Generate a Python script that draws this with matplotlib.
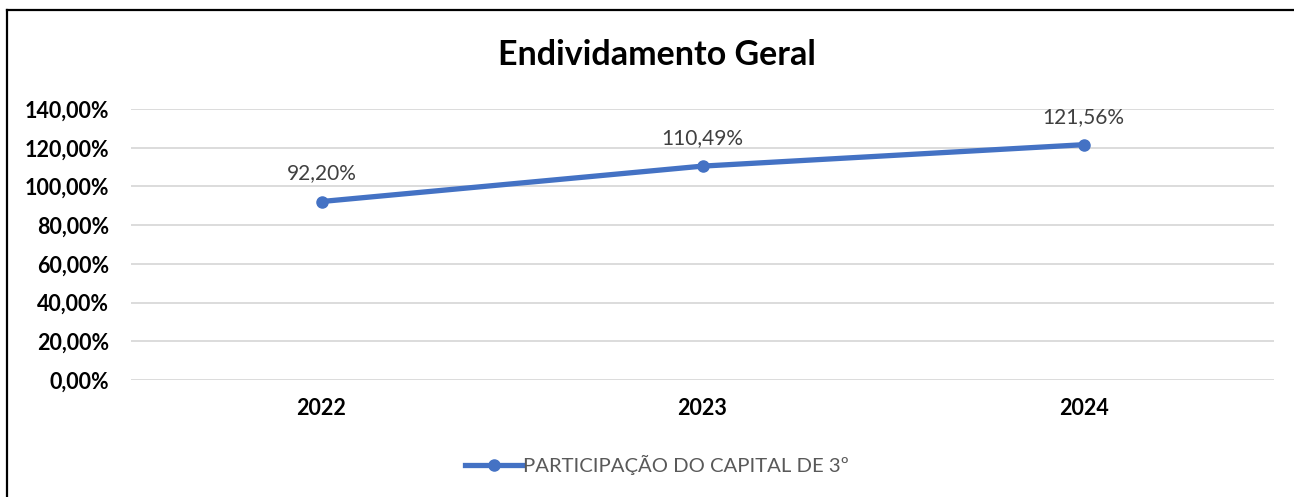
import matplotlib
matplotlib.use("Agg")
import matplotlib.pyplot as plt
from matplotlib.lines import Line2D

categories = ["2022", "2023", "2024"]
values = [92.20, 110.49, 121.56]
yticks = [0, 20, 40, 60, 80, 100, 120, 140]
ytick_labels = ["0,00%", "20,00%", "40,00%", "60,00%", "80,00%", "100,00%", "120,00%", "140,00%"]
data_labels = ["92,20%", "110,49%", "121,56%"]
series_name = "PARTICIPAÇÃO DO CAPITAL DE 3º"
title = "Endividamento Geral"

plt.rcParams['font.family'] = ['Lato', 'DejaVu Sans']

W, H = 1294, 497
fig = plt.figure(figsize=(W / 100, H / 100), dpi=100)
ax = fig.add_axes([131 / W, 1 - 380 / H, (1274 - 131) / W, (380 - 109) / H])

color = "#4472C4"
x = list(range(len(categories)))
ax.plot(x, values, color=color, lw=3.8, marker="o", ms=8, solid_capstyle="round", zorder=3)
for xi, v, lab in zip(x, values, data_labels):
    ax.annotate(lab, (xi, v), xytext=(0, 13), textcoords="offset points",
                ha="center", va="bottom", fontsize=15, color="#404040")

ax.set_xlim(-0.5, len(categories) - 0.5)
ax.set_ylim(0, 140)
ax.set_yticks(yticks)
ax.set_yticklabels(ytick_labels, fontsize=15.5, fontweight="bold", color="black")
ax.set_xticks(x)
ax.set_xticklabels(categories, fontsize=15.5, fontweight="bold", color="black")
ax.tick_params(axis="both", length=0)
ax.tick_params(axis="y", pad=16)
ax.tick_params(axis="x", pad=13)
ax.grid(axis="y", color="#D9D9D9", lw=1.3)
ax.set_axisbelow(True)
for s in ax.spines.values():
    s.set_visible(False)

fig.text(657 / W, 1 - 55 / H, title, ha="center", va="center", fontsize=24.5, fontweight="bold")

handle = Line2D([0], [0], color=color, lw=3.8, marker="o", ms=8)
fig.legend([handle], [series_name], loc="center", bbox_to_anchor=(657 / W, 1 - 465 / H),
           frameon=False, fontsize=14.6, labelcolor="#595959", handlelength=2.8, handletextpad=0.05)

# outer border (top and left visible)
fig.add_artist(Line2D([7 / W, 1], [1 - 10 / H, 1 - 10 / H], transform=fig.transFigure, color="black", lw=1.6))
fig.add_artist(Line2D([7 / W, 7 / W], [0, 1 - 10 / H], transform=fig.transFigure, color="black", lw=1.6))

fig.savefig("out.png", dpi=100, facecolor="white")
